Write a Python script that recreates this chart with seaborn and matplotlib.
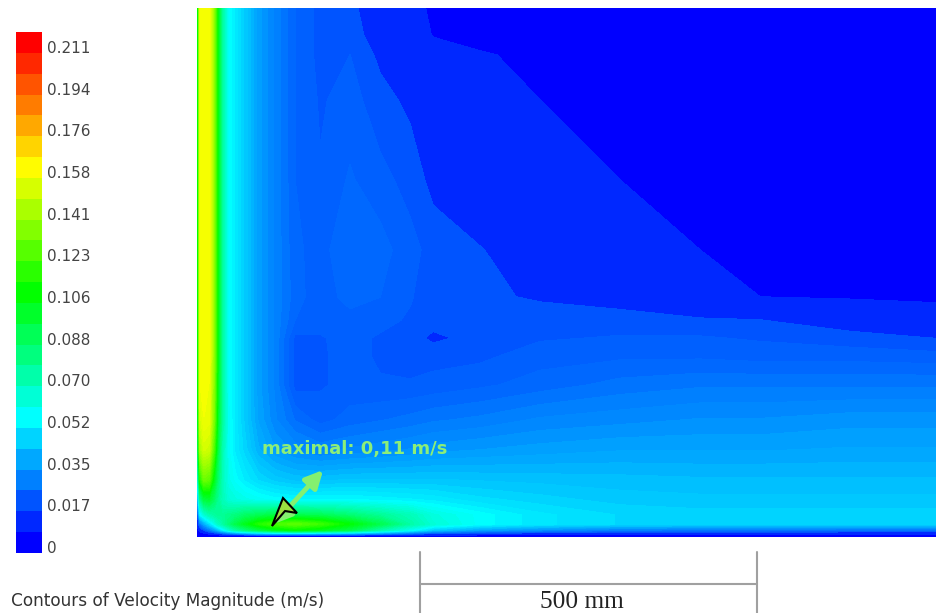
import numpy as np
import matplotlib
matplotlib.use('Agg')
import matplotlib.pyplot as plt
from matplotlib.colors import ListedColormap
from matplotlib.patches import Polygon
import seaborn as sns

# legend
tick_labels = ['0.211', '0.194', '0.176', '0.158', '0.141', '0.123', '0.106',
               '0.088', '0.070', '0.052', '0.035', '0.017', '0']
band_values = [0.2156, 0.2068, 0.1980, 0.1892, 0.1804, 0.1716, 0.1628, 0.1540,
               0.1452, 0.1364, 0.1276, 0.1188, 0.1100, 0.1012, 0.0924, 0.0836,
               0.0748, 0.0660, 0.0572, 0.0484, 0.0396, 0.0308, 0.0220, 0.0132,
               0.0044]

# velocity field, in mm/s; x and y are picture positions
field_x = [198, 200, 204, 209, 214, 218, 222, 228, 235, 245, 258, 275, 295,
           320, 350, 380, 410, 433, 480, 540, 620, 700, 760, 850, 937]
field_y = [9, 35, 55, 100, 180, 250, 297, 320, 338, 356, 385, 420, 450, 480,
           500, 515, 524, 530, 534, 536]
velocity = [
    [100, 156, 158, 158, 135, 100, 75, 55, 50, 43, 34, 28, 22, 19, 18, 16.5, 10.5, 8, 4, 3, 3, 3, 3, 3, 3],
    [100, 156, 158, 158, 135, 100, 75, 55, 50, 43, 34, 28, 22, 19, 18.5, 16.5, 12, 8.5, 6, 4, 3, 3, 3, 3, 3],
    [100, 156, 158, 158, 135, 100, 75, 55, 50, 43, 34, 28, 22, 19, 19.8, 17, 13, 11, 9.5, 7, 4, 3, 3, 3, 3],
    [100, 156, 158, 158, 135, 100, 75, 55, 50, 43, 34, 28, 22, 19.5, 20.7, 18.5, 17, 13, 11.5, 8.8, 6, 4, 3, 3, 3],
    [100, 156, 158, 158, 135, 100, 75, 55, 50, 43, 34, 28, 22, 20, 22.3, 20.5, 19, 16.8, 14, 11.5, 8.8, 6, 5, 4, 3],
    [100, 156, 158, 158, 135, 100, 75, 55, 50, 43, 34, 28, 22.5, 21, 24, 23, 20.5, 19, 17.8, 15, 11.5, 8.8, 7, 5, 4],
    [100, 156, 158, 158, 135, 100, 75, 55, 50, 43, 34, 28, 23, 20.5, 23, 22, 20, 18.5, 18.2, 17.2, 16.5, 13, 8.8, 8, 7],
    [100, 156, 158, 158, 135, 100, 75, 55, 50, 43, 34, 28, 22, 20.5, 21, 20.5, 19.5, 18.6, 18.5, 19, 18.5, 18, 17.6, 16, 14],
    [100, 156, 158, 158, 135, 100, 75, 55, 50, 43, 34, 28, 19.2, 19.6, 20.5, 19.5, 18.6, 17, 18.5, 19.5, 20, 20, 19.5, 18.5, 17.5],
    [100, 156, 158, 158, 135, 100, 75, 55, 50, 43, 34, 28, 18.8, 19.5, 20.5, 19.5, 19, 19, 19.2, 21, 21.5, 21.5, 21, 21, 20.5],
    [100, 156, 158, 156, 133, 98, 75, 55, 50, 43, 34, 28, 18.8, 19.5, 20.5, 20, 20, 20.5, 21.5, 23, 25, 26, 26, 26, 26],
    [95, 150, 156, 155, 130, 96, 74, 56, 50, 43, 35, 29, 24, 21, 23, 24, 25, 26, 27, 29, 30, 31, 31, 32, 32],
    [85, 140, 150, 148, 120, 90, 70, 56, 50, 45, 38, 33, 30, 28, 29, 30, 31, 32, 33, 34, 35, 35, 35, 35.5, 35.5],
    [60, 110, 128, 125, 100, 82, 68, 58, 54, 50, 46, 43, 41, 41, 42, 42, 42, 42, 41.5, 41, 40.5, 40, 40, 40, 40],
    [40, 75, 92, 95, 85, 75, 68, 62, 60, 58, 56, 54, 53, 53, 53, 52, 51, 50, 47, 45, 43, 42.5, 42.5, 42.5, 42.5],
    [20, 50, 60, 68, 72, 75, 75, 78, 80, 85, 88, 92, 90, 88, 82, 75, 68, 60, 54, 49, 46, 45, 45, 45, 45],
    [12, 25, 35, 45, 55, 65, 70, 80, 90, 100, 112, 120, 125, 118, 105, 90, 72, 62, 54, 49, 46, 45, 45, 45, 45],
    [6, 12, 18, 25, 32, 40, 48, 60, 70, 80, 90, 100, 105, 100, 90, 70, 55, 42, 34, 30, 26, 25, 25, 24, 24],
    [2, 4, 6, 8, 10, 12, 15, 18, 22, 26, 30, 32, 32, 30, 28, 24, 18, 14, 12, 11, 10, 10, 9, 9, 9],
    [1, 1, 1, 1, 1, 2, 2, 2, 3, 3, 3, 3, 3, 3, 3, 3, 3, 3, 3, 2, 2, 2, 2, 2, 2],
]

W, H = 937, 613

sns.set_theme(style='white')
plt.rcParams['font.family'] = ['DejaVu Sans']

stops = ['#0000ff', '#00ffff', '#00ff00', '#ffff00', '#ff0000']
rainbow = sns.blend_palette(stops, as_cmap=True)
legend_cmap = ListedColormap(sns.blend_palette(stops, n_colors=25))

# two wide bands at the low end, finer contours above them
levels = [0, 0.0088] + list(np.arange(0.0176, 0.2201, 0.0022))
level_colors = [rainbow(min(lv / 0.2112, 1.0)) for lv in levels[:-1]]

fig = plt.figure(figsize=(W / 100, H / 100), dpi=100)

# main axes in picture pixels
ax = fig.add_axes([0, 0, 1, 1])
ax.set_xlim(0, W)
ax.set_ylim(H, 0)
ax.axis('off')
filled = ax.contourf(field_x, field_y, np.array(velocity) / 1000,
                     levels=levels, colors=level_colors)
# hide the thin seams between neighbouring contour bands
filled.set_edgecolor('face')
filled.set_linewidth(0.4)

# annotation of the maximum
ax.text(262, 449, 'maximal: 0,11 m/s', color='#8cee78', fontsize=13,
        fontweight='bold', va='center', ha='left')
ax.annotate('', xy=(325, 468), xytext=(272, 526),
            arrowprops=dict(arrowstyle='<|-|>', color='#84f070', lw=3.5,
                            mutation_scale=26))
ax.add_patch(Polygon([(272, 526), (283, 498), (297, 513), (285, 511)],
                     closed=True, facecolor='#9be040', edgecolor='black',
                     lw=1.5, zorder=5))

# scale bar
for x in (420, 757):
    ax.plot([x, x], [552, H], color='#a0a0a0', lw=1.5)
ax.plot([420, 757], [584, 584], color='#a0a0a0', lw=1.5)
ax.text(582, 602, '500 mm', family='Liberation Serif', fontsize=18.3,
        color='#222222', ha='center', va='center')

ax.text(11, 601, 'Contours of Velocity Magnitude (m/s)', fontsize=12.2,
        color='#333333', ha='left', va='center')

# colour legend
cax = fig.add_axes([16 / W, 1 - 553 / H, 26 / W, 521 / H])
sns.heatmap(np.array(band_values).reshape(-1, 1), ax=cax, cmap=legend_cmap,
            vmin=0, vmax=0.22, cbar=False, xticklabels=False)
cax.yaxis.tick_right()
cax.set_yticks(np.arange(len(tick_labels)) * 2 + 0.72)
cax.set_yticklabels(tick_labels, rotation=0, fontsize=11, color='#444444')
cax.tick_params(axis='y', length=0, pad=3.5)

fig.savefig('out.png', dpi=100)
